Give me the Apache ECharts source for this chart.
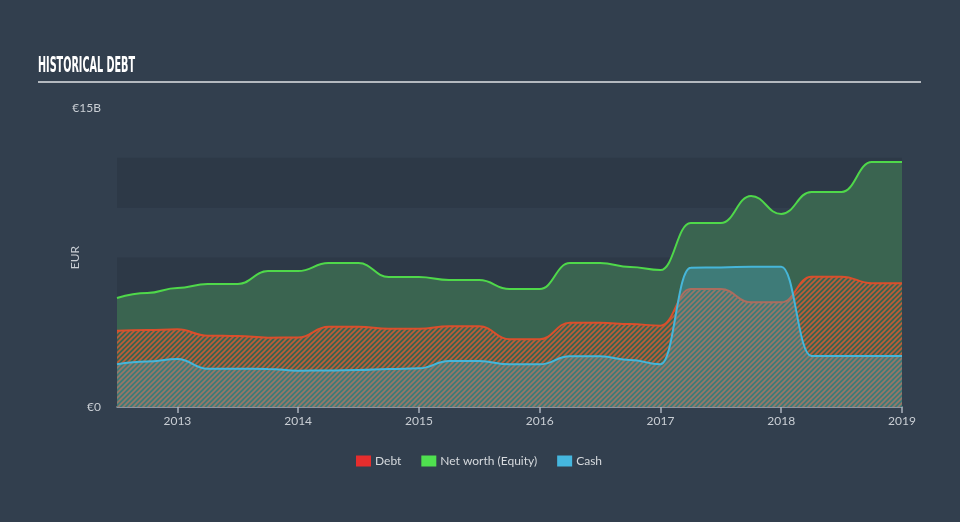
<!DOCTYPE html>
<html>
<head>
<meta charset="utf-8">
<script src="https://cdn.jsdelivr.net/npm/echarts@6/dist/echarts.min.js"></script>
<style>
html,body{margin:0;padding:0;background:#323f4e;}
#chart{width:960px;height:522px;}
</style>
</head>
<body>
<div id="chart"></div>
<script>
// Periods (decimal years, quarterly)
const periods = [2012.5, 2012.75, 2013.0, 2013.25, 2013.5, 2013.75, 2014.0, 2014.25, 2014.5, 2014.75,
  2015.0, 2015.25, 2015.5, 2015.75, 2016.0, 2016.25, 2016.5, 2016.75, 2017.0, 2017.25, 2017.5, 2017.75,
  2018.0, 2018.25, 2018.5, 2018.75, 2019.0];
// Values in EUR billions
const equity = [5.47, 5.72, 5.97, 6.17, 6.17, 6.82, 6.82, 7.22, 7.22, 6.52,
  6.52, 6.37, 6.37, 5.92, 5.92, 7.22, 7.22, 7.02, 6.87, 9.23, 9.23, 10.59,
  9.68, 10.79, 10.79, 12.29, 12.29];
const debt = [3.83, 3.86, 3.90, 3.58, 3.56, 3.48, 3.49, 4.03, 4.03, 3.93,
  3.93, 4.05, 4.05, 3.40, 3.40, 4.23, 4.23, 4.16, 4.08, 5.92, 5.92, 5.25,
  5.25, 6.54, 6.54, 6.21, 6.21];
const cash = [2.14, 2.28, 2.41, 1.92, 1.92, 1.91, 1.82, 1.83, 1.86, 1.91,
  1.94, 2.31, 2.31, 2.14, 2.14, 2.54, 2.54, 2.36, 2.14, 6.99, 7.00, 7.04,
  7.04, 2.56, 2.56, 2.56, 2.56];
const yearTicks = [2013, 2014, 2015, 2016, 2017, 2018, 2019];
const yLabels = {0: '€0', 15: '€15B'};

function pair(vals){ return periods.map((p,i)=>[p, vals[i]]); }

function hatch(color){
  const s = 5;
  const c = document.createElement('canvas');
  c.width = s; c.height = s;
  const g = c.getContext('2d');
  g.strokeStyle = color;
  g.lineWidth = 1.6;
  g.beginPath();
  g.moveTo(-1, s+1); g.lineTo(s+1, -1);
  g.moveTo(-1, 1); g.lineTo(1, -1);
  g.moveTo(s-1, s+1); g.lineTo(s+1, s-1);
  g.stroke();
  return c;
}

const titleFont = 'bold 21px "DejaVu Sans Condensed", "DejaVu Sans", sans-serif';
const titleText = 'HISTORICAL DEBT';
const mctx = document.createElement('canvas').getContext('2d');
mctx.font = titleFont;
const titleScale = 97 / mctx.measureText(titleText).width;

const chart = echarts.init(document.getElementById('chart'), null, {renderer:'canvas'});
const font = 'Lato';
chart.setOption({
  backgroundColor: '#323f4e',
  animation: false,
  graphic: [
    {type:'text', x: 38, y: 56, scaleX: titleScale,
     style:{text:titleText, fill:'#ffffff', font:titleFont}},
    {type:'rect', shape:{x:38, y:81, width:883, height:2}, style:{fill:'#b4b9bf'}}
  ],
  legend: {
    left: 351, top: 450, itemWidth: 15, itemHeight: 11, itemGap: 20, icon: 'rect',
    textStyle: {color:'#d6dade', fontSize: 12, fontFamily: font, padding:[0,0,0,-1]},
    data: [
      {name:'Debt', itemStyle:{color:'#e62d2d'}},
      {name:'Net worth (Equity)', itemStyle:{color:'#4fe04f'}},
      {name:'Cash', itemStyle:{color:'#45b7df'}}
    ]
  },
  grid: {left:117, right:58, top:108, bottom:115},
  xAxis: {
    type:'value', min:2012.5, max:2019.0,
    axisLine:{show:true, lineStyle:{color:'#aab3bd', width:1.5}},
    axisTick:{show:true, customValues: yearTicks, length:6, lineStyle:{color:'#aab3bd', width:1.5}},
    axisLabel:{customValues: yearTicks, color:'#c9ced4', fontSize:12, fontFamily:font, margin:8,
      formatter: v => String(Math.round(v))},
    splitLine:{show:false}
  },
  yAxis: {
    type:'value', min:0, max:15, interval:2.5,
    name:'EUR', nameLocation:'middle', nameGap:36, nameRotate:90, nameMoveOverlap:false,
    nameTextStyle:{color:'#c9ced4', fontSize:12, fontFamily:font},
    axisLine:{show:false}, axisTick:{show:false},
    axisLabel:{color:'#c9ced4', fontSize:12, fontFamily:font, margin:16,
      formatter: v => (yLabels[v] !== undefined ? yLabels[v] : '')},
    splitLine:{show:false},
    splitArea:{show:true, areaStyle:{color:['#2d3947','rgba(0,0,0,0)']}}
  },
  series: [
    {name:'Net worth (Equity)', type:'line', data: pair(equity), smooth:0.45, smoothMonotone:'x',
     showSymbol:false, itemStyle:{color:'#4fe04f'},
     lineStyle:{color:'#4fd84a', width:2},
     areaStyle:{color:'#3a6450', opacity:1, origin:'start'}, z:2},
    {name:'Debt', type:'line', data: pair(debt), smooth:0.45, smoothMonotone:'x',
     showSymbol:false, itemStyle:{color:'#e62d2d'},
     lineStyle:{color:'#da4f2c', width:2},
     areaStyle:{color:{image: hatch('rgba(214,92,52,0.85)'), repeat:'repeat'}, opacity:1, origin:'start'}, z:3},
    {name:'Cash', type:'line', data: pair(cash), smooth:0.45, smoothMonotone:'x',
     showSymbol:false, itemStyle:{color:'#45b7df'},
     lineStyle:{color:'#46b6d9', width:2},
     areaStyle:{color:'rgba(70,175,205,0.32)', opacity:1, origin:'start'}, z:4}
  ]
});
</script>
</body>
</html>
